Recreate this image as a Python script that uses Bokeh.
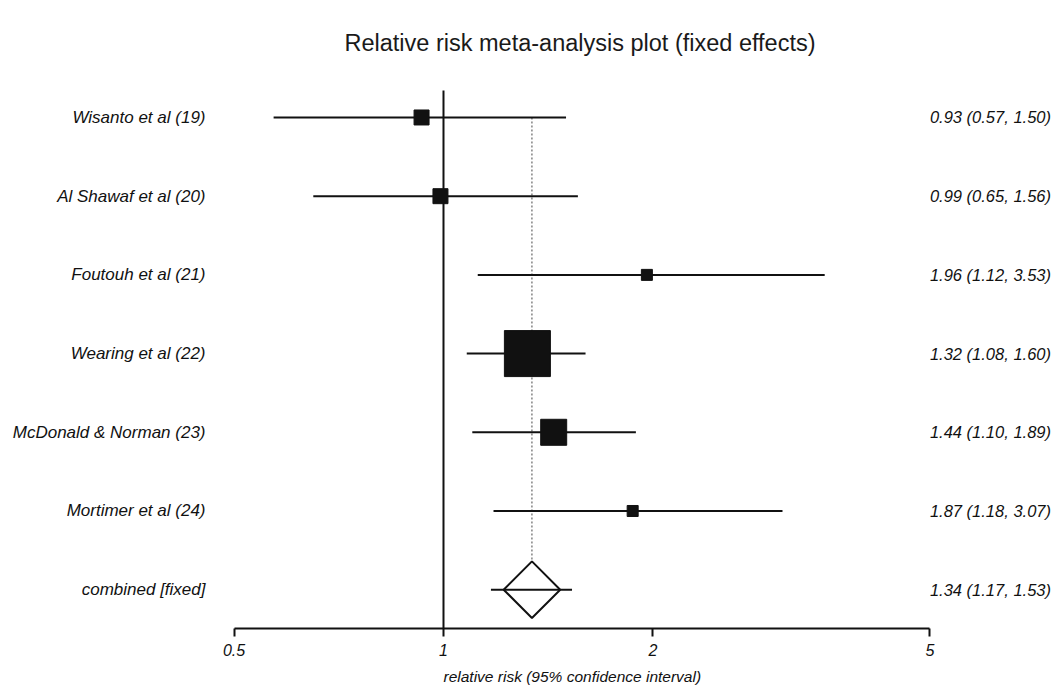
import numpy as np
from bokeh.plotting import figure
from bokeh.models import Range1d, FixedTicker, Title, ColumnDataSource
from bokeh.core.properties import value
from bokeh.embed import file_html
from bokeh.resources import INLINE

# ---- data ----
studies = ["Wisanto et al (19)", "Al Shawaf et al (20)", "Foutouh et al (21)",
           "Wearing et al (22)", "McDonald & Norman (23)", "Mortimer et al (24)"]
rr = [0.93, 0.99, 1.96, 1.32, 1.44, 1.87]
lo = [0.57, 0.65, 1.12, 1.08, 1.10, 1.18]
hi = [1.50, 1.56, 3.53, 1.60, 1.89, 3.07]
box_px = [15, 15, 11, 46, 26, 11]          # box side (study weight) in px
combined_label = "combined [fixed]"
comb_rr, comb_lo, comb_hi = 1.34, 1.17, 1.53
ticks = [0.5, 1, 2, 5]
title_text = "Relative risk meta-analysis plot (fixed effects)"
xlabel_text = "relative risk (95% confidence interval)"

FONT = "Liberation Sans"
INK = "#111111"

n = len(studies)
rows = list(range(n))
names_all = studies + [combined_label]
rr_all = rr + [comb_rr]
lo_all = lo + [comb_lo]
hi_all = hi + [comb_hi]
rows_all = list(range(n + 1))
right_txt = [f"{a:.2f} ({b:.2f}, {c:.2f})" for a, b, c in zip(rr_all, lo_all, hi_all)]

Y_BOTTOM = 6.493
p = figure(width=1059, height=694, x_axis_type="log",
           x_range=Range1d(0.2309, 7.677), y_range=Range1d(Y_BOTTOM, -0.724),
           y_axis_location=None, toolbar_location=None, output_backend="svg",
           min_border_left=0, min_border_right=0, min_border_top=60,
           min_border_bottom=66, outline_line_color=None,
           background_fill_color="white", border_fill_color="white")
p.grid.visible = False

# title
p.title = Title(text=title_text, align="left", offset=344, standoff=10,
                text_font=FONT, text_font_size="23.5px", text_font_style="normal",
                text_color="#1a1a1a")

# x axis
ax = p.xaxis[0]
ax.ticker = FixedTicker(ticks=ticks)
ax.major_label_overrides = {t: f"{t:g}" for t in ticks}
ax.bounds = (ticks[0], ticks[-1])
ax.axis_line_width = 2
ax.axis_line_color = INK
ax.major_tick_line_width = 2
ax.major_tick_line_color = INK
ax.major_tick_in = 0
ax.major_tick_out = 8
ax.minor_tick_line_color = None
ax.major_label_standoff = 7
ax.major_label_text_font = FONT
ax.major_label_text_font_style = "italic"
ax.major_label_text_font_size = "16px"
ax.major_label_text_color = INK

# axis title, as a title panel below the axis
p.add_layout(Title(text=xlabel_text, align="left", offset=443, standoff=14,
                   vertical_align="bottom", text_font=FONT,
                   text_font_style="italic", text_font_size="15.5px",
                   text_color=INK), "below")

# null line at RR = 1
p.segment(x0=[1], y0=[-0.343], x1=[1], y1=[Y_BOTTOM], line_color=INK, line_width=2)

# dotted line at pooled estimate
p.segment(x0=[comb_rr], y0=[0], x1=[comb_rr], y1=[n], line_color="#444444",
          line_width=1, line_dash="2 2")

# study CIs and boxes
src = ColumnDataSource(dict(y=rows, rr=rr, lo=lo, hi=hi, size=box_px))
p.segment(x0="lo", y0="y", x1="hi", y1="y", source=src, line_color=INK, line_width=2)
p.scatter(x="rr", y="y", size="size", marker="square", source=src,
          fill_color=INK, line_color=INK, line_width=1)

# combined diamond
p.scatter(x=[comb_rr], y=[n], size=40, marker="square", angle=np.pi / 4,
          fill_color="white", line_color=INK, line_width=2)
p.segment(x0=[comb_lo], y0=[n], x1=[comb_hi], y1=[n], line_color=INK, line_width=2)

# labels
lab = ColumnDataSource(dict(y=rows_all, name=names_all, txt=right_txt))
p.text(x=0.455, y="y", text="name", source=lab, text_align="right",
       text_baseline="middle", text_font=value(FONT), text_font_style="italic",
       text_font_size="17px", text_color=INK)
p.text(x=ticks[-1], y="y", text="txt", source=lab, text_align="left",
       text_baseline="middle", text_font=value(FONT), text_font_style="italic",
       text_font_size="16.5px", text_color=INK)

open("out.html", "w").write(file_html(p, INLINE))
